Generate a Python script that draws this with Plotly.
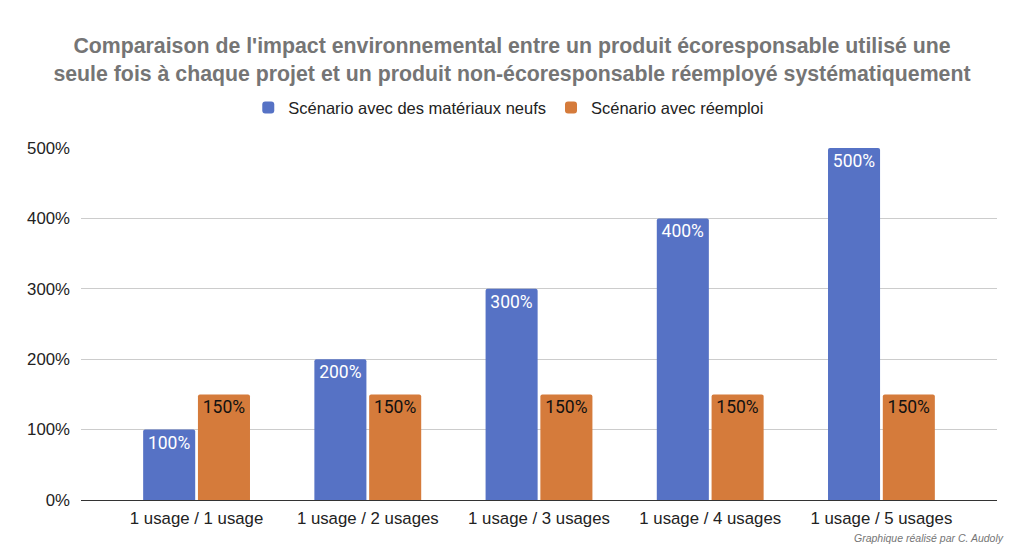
import plotly.graph_objects as go

categories = ["1 usage / 1 usage", "1 usage / 2 usages", "1 usage / 3 usages",
              "1 usage / 4 usages", "1 usage / 5 usages"]
neufs = [1.0, 2.0, 3.0, 4.0, 5.0]
reemploi = [1.5, 1.5, 1.5, 1.5, 1.5]
series_names = ["Scénario avec des matériaux neufs", "Scénario avec réemploi"]
y_ticks = [0, 1, 2, 3, 4, 5]
y_tick_labels = ["0%", "100%", "200%", "300%", "400%", "500%"]

x = list(range(len(categories)))
blue = "#5672c5"
orange = "#d57b3b"
font = "Liberation Sans, Arial, sans-serif"
lab_font = "Roboto"

fig = go.Figure()
fig.add_trace(go.Bar(
    x=x, y=neufs, name=series_names[0], marker_color=blue,
    marker_line_width=0,
    text=[f"{v*100:.0f}%" for v in neufs], textposition="inside",
    insidetextanchor="end", textangle=0,
    textfont=dict(color="white", size=17.5, family=lab_font),
))
fig.add_trace(go.Bar(
    x=x, y=reemploi, name=series_names[1], marker_color=orange,
    marker_line_width=0,
    text=[f"{v*100:.0f}%" for v in reemploi], textposition="inside",
    insidetextanchor="end", textangle=0,
    textfont=dict(color="#111111", size=17.5, family=lab_font),
))

fig.update_layout(
    width=1024, height=556,
    margin=dict(l=81, r=27, t=148, b=56),
    paper_bgcolor="white", plot_bgcolor="white",
    barmode="group", bargap=0.36, bargroupgap=0.05,
    barcornerradius=2,
    uniformtext=dict(mode=False),
    title=dict(
        text="Comparaison de l'impact environnemental entre un produit écoresponsable utilisé une<br>seule fois à chaque projet et un produit non-écoresponsable réemployé systématiquement",
        x=0.5, xanchor="center", y=0.905, yanchor="middle",
        font=dict(family=font, size=21.3, color="#757575", weight="bold"),
    ),
    legend=dict(
        orientation="h", x=0.467, xanchor="center",
        y=1.114, yanchor="middle",
        font=dict(family=font, size=16.5, color="#222222"),
        itemsizing="constant", traceorder="normal",
    ),
    xaxis=dict(
        tickmode="array", tickvals=x, ticktext=categories,
        range=[-0.675, 4.675], showgrid=False, zeroline=False,
        showline=False, ticks="", ticklabelstandoff=6,
        tickfont=dict(family=font, size=16.8, color="#222222"),
    ),
    yaxis=dict(
        range=[0, 5], tickmode="array", tickvals=y_ticks, ticktext=y_tick_labels,
        showgrid=True, gridcolor="#cccccc", gridwidth=1,
        zeroline=True, zerolinecolor="#333333", zerolinewidth=1,
        ticks="", ticklabelstandoff=10,
        tickfont=dict(family=font, size=16.8, color="#222222"),
    ),
    annotations=[dict(
        text="<i>Graphique réalisé par C. Audoly</i>", xref="paper", yref="paper",
        x=1.01, y=-0.108, xanchor="right", yanchor="middle", showarrow=False,
        font=dict(family=font, size=10.5, color="#757575"),
    )],
)

fig.write_html("out.html")
